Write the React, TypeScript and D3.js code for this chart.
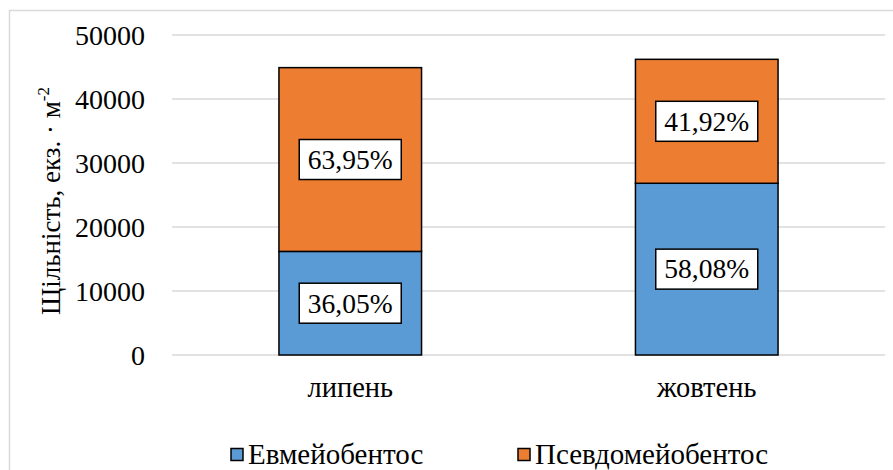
import React from "react";
import * as d3 from "d3";

// Seasonal meiobenthos density, ind. per m², split into two groups
const months = ["липень", "жовтень"];
const totals = [44900, 46200];
const euShare = [36.05, 58.08];
const pseudoShare = [63.95, 41.92];
const seriesNames = ["Евмейобентос", "Псевдомейобентос"];
const seriesColors = ["#5B9BD5", "#ED7D31"];
const yTicks = [0, 10000, 20000, 30000, 40000, 50000];

const W = 893;
const H = 470;
const FAMILY = '"Times New Roman", "Liberation Serif", Tinos';

const fmtPct = (v: number) => d3.format(".2f")(v).replace(".", ",") + "%";

export default function App() {
  const y = d3.scaleLinear().domain([0, 50000]).range([355, 35]);
  const x = d3
    .scaleBand<string>()
    .domain(months)
    .range([172, 885])
    .paddingInner(0.6)
    .paddingOuter(0.3);

  const rows = months.map((m, i) => ({
    m,
    eu: (totals[i] * euShare[i]) / 100,
    ps: (totals[i] * pseudoShare[i]) / 100,
    euPct: euShare[i],
    psPct: pseudoShare[i],
  }));

  const stack = d3.stack<any>().keys(["eu", "ps"])(rows);
  const pctKeys = ["euPct", "psPct"];

  const labelW = 102;
  const labelH = 40;
  const legendX = [231, 518];

  return (
    <svg
      width={W}
      height={H}
      fontFamily={FAMILY}
      style={{ position: "absolute", left: 0, top: 0, background: "#fff", fontFamily: FAMILY }}
    >
      <style>{`text, tspan { font-family: ${FAMILY}; }`}</style>
      <rect x={9.5} y={10.5} width={W + 20} height={H + 20} fill="#fff" stroke="#d9d9d9" strokeWidth={1.5} />

      {/* horizontal gridlines */}
      {yTicks.map((t) => (
        <line key={t} x1={172} x2={885} y1={y(t)} y2={y(t)} stroke="#d9d9d9" strokeWidth={1.5} />
      ))}

      {/* y tick labels */}
      {yTicks.map((t) => (
        <text key={"t" + t} x={145} y={y(t)} dy="0.34em" textAnchor="end" fontSize={28} fill="#000">
          {t}
        </text>
      ))}

      {/* y axis title */}
      <text
        transform={`translate(60,${(y(0) + y(50000)) / 2 + 6}) rotate(-90)`}
        textAnchor="middle"
        fontSize={27}
        fill="#000"
      >
        Щільність, екз. · м
        <tspan fontSize={17} dy={-11}>-2</tspan>
      </text>

      {/* stacked bars */}
      {stack.map((layer, si) =>
        layer.map((d, i) => (
          <rect
            key={si + "-" + i}
            x={x(months[i])}
            width={x.bandwidth()}
            y={y(d[1])}
            height={y(d[0]) - y(d[1])}
            fill={seriesColors[si]}
            stroke="#000"
            strokeWidth={1.5}
          />
        ))
      )}

      {/* percentage labels */}
      {stack.map((layer, si) =>
        layer.map((d, i) => {
          const cx = (x(months[i]) as number) + x.bandwidth() / 2;
          const cy = (y(d[0]) + y(d[1])) / 2;
          return (
            <g key={"l" + si + "-" + i}>
              <rect
                x={cx - labelW / 2}
                y={cy - labelH / 2}
                width={labelW}
                height={labelH}
                fill="#fff"
                stroke="#000"
                strokeWidth={1.5}
              />
              <text x={cx} y={cy} dy="0.34em" textAnchor="middle" fontSize={27.5} fill="#000">
                {fmtPct((rows[i] as any)[pctKeys[si]])}
              </text>
            </g>
          );
        })
      )}

      {/* category labels */}
      {months.map((m) => (
        <text key={m} x={(x(m) as number) + x.bandwidth() / 2} y={397} textAnchor="middle" fontSize={28.5} fill="#000">
          {m}
        </text>
      ))}

      {/* legend */}
      {seriesNames.map((name, i) => (
        <g key={name}>
          <rect x={legendX[i]} y={448.5} width={12} height={12} fill={seriesColors[i]} stroke="#000" strokeWidth={1.5} />
          <text x={legendX[i] + 17} y={464} fontSize={29} fill="#000">
            {name}
          </text>
        </g>
      ))}
    </svg>
  );
}
